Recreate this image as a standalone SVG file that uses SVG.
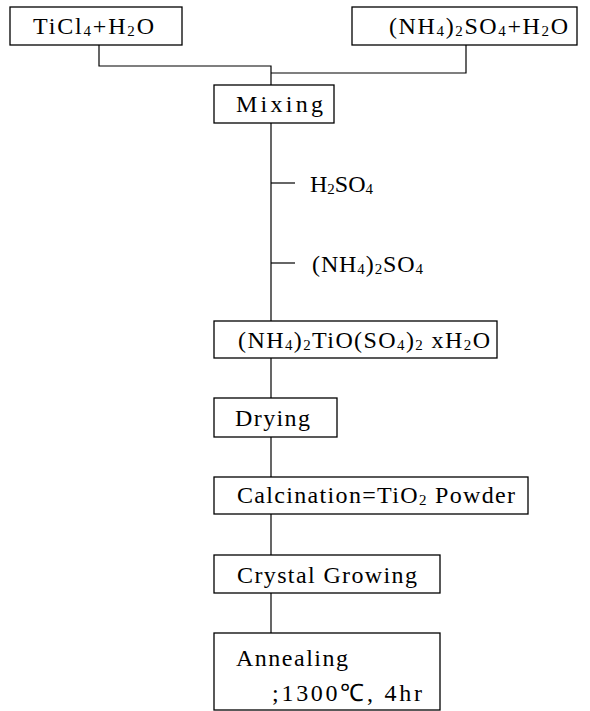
<svg xmlns="http://www.w3.org/2000/svg" width="590" height="711" viewBox="0 0 590 711">
<style>
.box{fill:#fff;stroke:#000;stroke-width:1.3}
.ln{fill:none;stroke:#000;stroke-width:1.2}
text{font-family:"Liberation Serif","Times New Roman",serif;font-size:24px;fill:#000}
.s{font-size:15px}
</style>
<rect width="590" height="711" fill="#fff"/>
<g id="connectors">
<polyline class="ln" points="99,45 99,66 271,66 271,85"/>
<polyline class="ln" points="466,45 466,73 271,73"/>
<line class="ln" x1="271" y1="123" x2="271" y2="321"/>
<line class="ln" x1="271" y1="183" x2="295" y2="183"/>
<line class="ln" x1="271" y1="263" x2="295" y2="263"/>
<line class="ln" x1="271" y1="358" x2="271" y2="398"/>
<line class="ln" x1="271" y1="437" x2="271" y2="477"/>
<line class="ln" x1="271" y1="514" x2="271" y2="555"/>
<line class="ln" x1="271" y1="593" x2="271" y2="633"/>
</g>
<g id="ticl4">
<rect class="box" x="10" y="7" width="172" height="38"/>
<text x="33" y="34" textLength="121">TiCl<tspan class="s" dy="2">4</tspan><tspan dy="-2">+H</tspan><tspan class="s" dy="2">2</tspan><tspan dy="-2">O</tspan></text>
</g>
<g id="nh4so4">
<rect class="box" x="352" y="7" width="225" height="38"/>
<text x="389" y="34" textLength="179">(NH<tspan class="s" dy="2">4</tspan><tspan dy="-2">)</tspan><tspan class="s" dy="2">2</tspan><tspan dy="-2">SO</tspan><tspan class="s" dy="2">4</tspan><tspan dy="-2">+H</tspan><tspan class="s" dy="2">2</tspan><tspan dy="-2">O</tspan></text>
</g>
<g id="mixing">
<rect class="box" x="214" y="85" width="120" height="38"/>
<text x="236" y="112" textLength="87">Mixing</text>
</g>
<g id="h2so4">
<text x="310" y="192" textLength="63">H<tspan class="s" dy="2">2</tspan><tspan dy="-2">SO</tspan><tspan class="s" dy="2">4</tspan></text>
</g>
<g id="nh42so4">
<text x="312" y="272" textLength="111">(NH<tspan class="s" dy="2">4</tspan><tspan dy="-2">)</tspan><tspan class="s" dy="2">2</tspan><tspan dy="-2">SO</tspan><tspan class="s" dy="2">4</tspan></text>
</g>
<g id="tioso4">
<rect class="box" x="214" y="321" width="283" height="37"/>
<text x="238" y="348" textLength="252">(NH<tspan class="s" dy="2">4</tspan><tspan dy="-2">)</tspan><tspan class="s" dy="2">2</tspan><tspan dy="-2">TiO(SO</tspan><tspan class="s" dy="2">4</tspan><tspan dy="-2">)</tspan><tspan class="s" dy="2">2</tspan><tspan dy="-2">  xH</tspan><tspan class="s" dy="2">2</tspan><tspan dy="-2">O</tspan></text>
</g>
<g id="drying">
<rect class="box" x="214" y="398" width="123" height="39"/>
<text x="235" y="426" textLength="75">Drying</text>
</g>
<g id="calcination">
<rect class="box" x="214" y="477" width="314" height="37"/>
<text x="237" y="503" textLength="278">Calcination=TiO<tspan class="s" dy="2">2</tspan><tspan dy="-2"> Powder</tspan></text>
</g>
<g id="crystal">
<rect class="box" x="214" y="555" width="226" height="38"/>
<text x="237" y="583" textLength="180">Crystal Growing</text>
</g>
<g id="annealing">
<rect class="box" x="214" y="633" width="226" height="77"/>
<text x="236" y="666" textLength="112">Annealing</text>
<text x="272" y="701" textLength="150">;1300℃, 4hr</text>
</g>
</svg>
